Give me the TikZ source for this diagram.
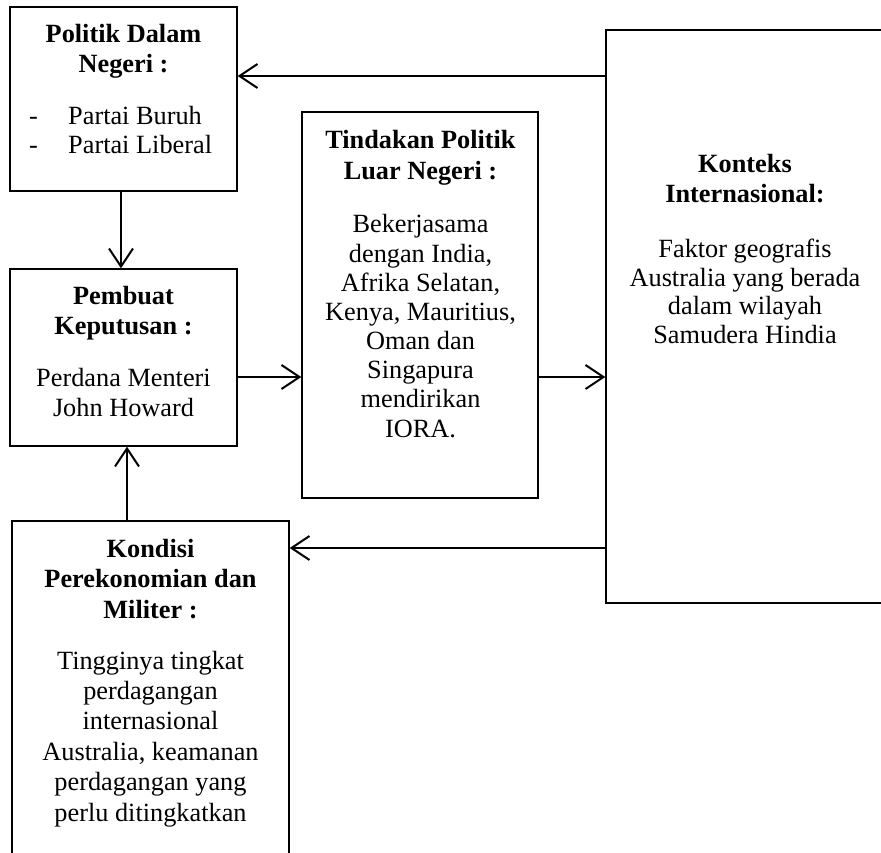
\documentclass[tikz,border=0pt]{standalone}
\usepackage{fontspec}
\setmainfont{Liberation Serif}
\usetikzlibrary{arrows.meta}
\tikzset{
  box/.style={draw, rectangle, line width=1.3pt, inner sep=0pt},
  txt/.style={font=\fontsize{26.3}{29.3}\selectfont, inner sep=0pt, anchor=base},
  ttl/.style={txt, font=\fontsize{26.3}{29.3}\selectfont\bfseries},
  arr/.style={line width=2pt, -{Straight Barb[length=18pt,width=24pt,line width=2pt]}}
}
\newcommand\tlines[6]{%
  \foreach \t [count=\i] in {#6}
    \node[#1] (#5\i) at (#2, {#3+(\i-1)*#4}) {\t};}
\begin{document}
\begin{tikzpicture}[x=1pt,y=-1pt]
\useasboundingbox (0,0) rectangle (881,853);
\clip (0,0) rectangle (881,853);
% boxes
\node[box, minimum width=227, minimum height=184] (A) at (123.5,99) {};
\node[box, minimum width=227, minimum height=177] (B) at (123.5,357.5) {};
\node[box, minimum width=236, minimum height=386] (C) at (420,305) {};
\node[box, minimum width=354, minimum height=573] (R) at (783,316.5) {};
\node[box, minimum width=277, minimum height=429] (D) at (150.5,735.5) {};
% texts
\tlines{ttl}{123.5}{43}{30}{at}{Politik Dalam, Negeri :}
\node[txt, anchor=base west] (ad1) at (29,125) {-};
\node[txt, anchor=base west] (ab1) at (68,125) {Partai Buruh};
\node[txt, anchor=base west] (ad2) at (29,154) {-};
\node[txt, anchor=base west] (ab2) at (68,154) {Partai Liberal};
\tlines{ttl}{123.5}{304}{30}{bt}{Pembuat, Keputusan :}
\tlines{txt}{123.5}{386}{30.5}{bb}{Perdana Menteri, John Howard}
\tlines{ttl}{420.5}{149}{30.5}{ct}{Tindakan Politik, Luar Negeri :}
\tlines{txt}{420.5}{233}{29.15}{cb}{Bekerjasama, {dengan India,}, {Afrika Selatan,}, {Kenya, Mauritius,}, Oman dan, Singapura, mendirikan, IORA.}
\tlines{ttl}{745}{173}{30}{rt}{Konteks, Internasional:}
\tlines{txt}{745}{258}{28.4}{rb}{Faktor geografis, Australia yang berada, dalam wilayah, Samudera Hindia}
\tlines{ttl}{150.5}{557}{30.5}{dt}{Kondisi, Perekonomian dan, Militer :}
\tlines{txt}{150.5}{669}{30.4}{db}{Tingginya tingkat, perdagangan, internasional, {Australia, keamanan}, perdagangan yang, perlu ditingkatkan}
% arrows
\draw[arr] (R.west |- 0,76) -- (A.east |- 0,76);
\draw[arr] (A.south -| 121,0) -- (B.north -| 121,0);
\draw[arr] (B.east |- 0,377) -- (C.west |- 0,377);
\draw[arr] (C.east |- 0,377) -- (R.west |- 0,377);
\draw[arr] (D.north -| 127,0) -- (B.south -| 127,0);
\draw[arr] (R.west |- 0,548) -- (D.east |- 0,548);
\end{tikzpicture}
\end{document}
